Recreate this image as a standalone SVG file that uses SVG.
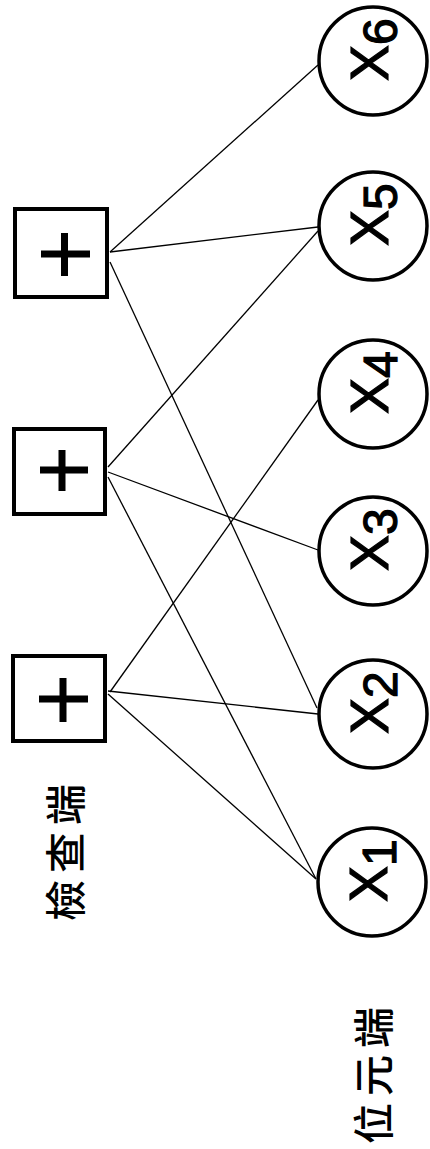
<svg xmlns="http://www.w3.org/2000/svg" width="430" height="1149" viewBox="0 0 430 1149">
<style>
.box{fill:#fff;stroke:#000;stroke-width:4}
.plus{stroke:#000;stroke-width:7;fill:none}
.var{fill:#fff;stroke:#000;stroke-width:3.5}
.edge{stroke:#000;stroke-width:1.3;fill:none}
.lbl{font-family:"Liberation Sans",Arial,sans-serif;font-size:54px;fill:#000;stroke:#000;stroke-width:1.2}
.sub{font-size:48px}
.cjk{font-family:"Noto Sans CJK TC","Noto Sans CJK SC",sans-serif;font-size:41px;font-weight:500;fill:#000;letter-spacing:7px}
</style>
<rect width="430" height="1149" fill="#fff"/>
<g id="connectors">
<line class="edge" x1="110" y1="252" x2="318" y2="65"/>
<line class="edge" x1="110" y1="252" x2="318" y2="227"/>
<line class="edge" x1="110" y1="262" x2="317" y2="708"/>
<line class="edge" x1="108" y1="467" x2="318" y2="231"/>
<line class="edge" x1="108" y1="472" x2="318" y2="550"/>
<line class="edge" x1="108" y1="477" x2="316" y2="879"/>
<line class="edge" x1="110" y1="692" x2="318" y2="400"/>
<line class="edge" x1="108" y1="691" x2="318" y2="714"/>
<line class="edge" x1="108" y1="694" x2="316" y2="879"/>
</g>
<g id="check1">
<rect class="box" x="15" y="209" width="92" height="88"/>
<path class="plus" d="M41 254H90M64.5 233V276"/>
</g>
<g id="check2">
<rect class="box" x="14" y="429" width="91" height="85"/>
<path class="plus" d="M40 470H88M62 450V491"/>
</g>
<g id="check3">
<rect class="box" x="13" y="656" width="92" height="85"/>
<path class="plus" d="M39 699H88M63 678V722"/>
</g>
<g id="x6">
<circle class="var" cx="373" cy="61" r="54"/>
<text class="lbl" transform="translate(373,61) rotate(-90)" x="-20" y="15">X<tspan class="sub" dy="9">6</tspan></text>
</g>
<g id="x5">
<circle class="var" cx="373" cy="226" r="54"/>
<text class="lbl" transform="translate(373,226) rotate(-90)" x="-20" y="15">X<tspan class="sub" dy="9">5</tspan></text>
</g>
<g id="x4">
<circle class="var" cx="373" cy="394" r="54"/>
<text class="lbl" transform="translate(373,394) rotate(-90)" x="-20" y="15">X<tspan class="sub" dy="9">4</tspan></text>
</g>
<g id="x3">
<circle class="var" cx="373" cy="551" r="54"/>
<text class="lbl" transform="translate(373,551) rotate(-90)" x="-20" y="15">X<tspan class="sub" dy="9">3</tspan></text>
</g>
<g id="x2">
<circle class="var" cx="373" cy="714" r="54"/>
<text class="lbl" transform="translate(373,714) rotate(-90)" x="-20" y="15">X<tspan class="sub" dy="9">2</tspan></text>
</g>
<g id="x1">
<circle class="var" cx="372" cy="882" r="54"/>
<text class="lbl" transform="translate(372,882) rotate(-90)" x="-20" y="15">X<tspan class="sub" dy="9">1</tspan></text>
</g>
<g id="label-check">
<text class="cjk" transform="translate(63,921) rotate(-90)" x="0" y="0" dominant-baseline="central">檢查端</text>
</g>
<g id="label-bit">
<text class="cjk" transform="translate(371,1144) rotate(-90)" x="0" y="0" dominant-baseline="central">位元端</text>
</g>
</svg>
